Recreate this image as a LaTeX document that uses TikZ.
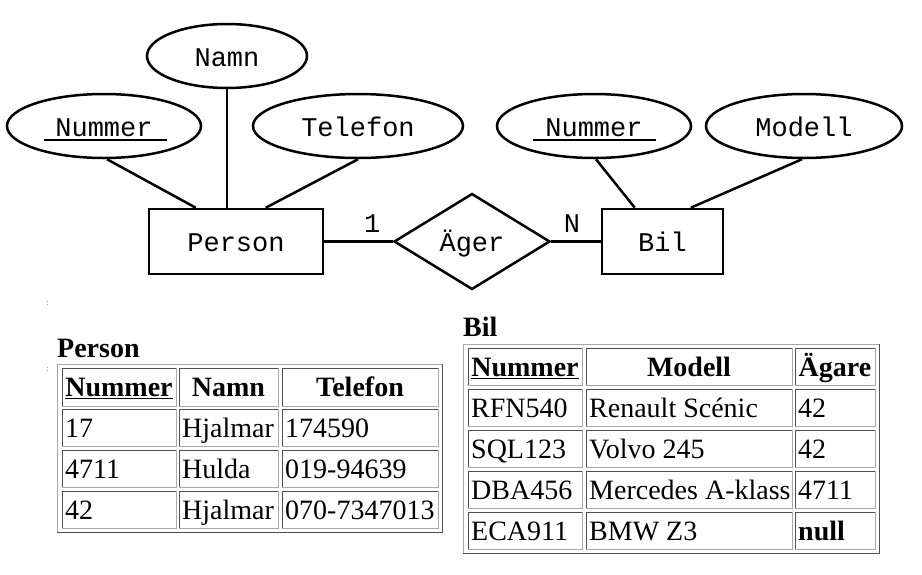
\documentclass[tikz,border=0pt]{standalone}
\usepackage{fontspec}
\setmainfont{Liberation Serif}
\newfontfamily\ermono{Liberation Mono}
\usetikzlibrary{shapes.geometric,calc}
\definecolor{cdk}{HTML}{505050}
\definecolor{clt}{HTML}{A8A8A8}
\newcommand\myerfont{\ermono\fontsize{27}{30}\selectfont}
\newcommand\mytabfont{\fontsize{28}{32}\selectfont}
\tikzset{
  er/.style={line width=2.5pt},
  ertext/.style={font=\myerfont, text height=20pt, text depth=0pt},
  attr/.style={ellipse, draw, er, inner sep=0pt, minimum height=64pt, ertext},
  ent/.style={rectangle, draw, er, inner sep=0pt, minimum height=65pt, ertext},
  rel/.style={diamond, draw, er, inner sep=0pt, minimum width=156pt, minimum height=96pt, ertext},
  card/.style={inner sep=0pt, font=\myerfont},
  keyline/.style={line width=2.2pt},
  tabtext/.style={inner sep=0pt, font=\mytabfont},
  tabhead/.style={inner sep=0pt, font=\mytabfont\bfseries},
  dkline/.style={draw=cdk, line width=1pt},
  ltline/.style={draw=clt, line width=1pt},
  dotmark/.style={fill=clt},
}
% cell with left-aligned text: name, x1, y1, x2, y2, text
\newcommand\cellL[6]{%
  \draw[dkline] (#2,#5) -- (#2,#3) -- (#4,#3);
  \draw[ltline] (#4,#3) -- (#4,#5) -- (#2,#5);
  \node[tabtext, anchor=base west] (#1) at ({#2+3},{(#3+#5)/2+9.5}) {#6};
}
% header cell with centred bold text
\newcommand\cellC[6]{%
  \draw[dkline] (#2,#5) -- (#2,#3) -- (#4,#3);
  \draw[ltline] (#4,#3) -- (#4,#5) -- (#2,#5);
  \node[tabhead, anchor=base] (#1) at ({(#2+#4)/2},{(#3+#5)/2+9.5}) {#6};
}
% outer table frame
\newcommand\tframe[4]{%
  \draw[ltline] (#1,#4) -- (#1,#2) -- (#3,#2);
  \draw[dkline] (#3,#2) -- (#3,#4) -- (#1,#4);
}
\begin{document}
\begin{tikzpicture}[x=1pt,y=-1pt]
\fill[white] (0,0) rectangle (922,574);
\useasboundingbox (0,0) rectangle (922,574);

% ---------- ER diagram ----------
\node[attr, minimum width=160pt] (namn) at (227,56) {Namn};
\node[attr, minimum width=194pt] (pnum) at (104,126) {Nummer};
\node[attr, minimum width=210pt] (tel) at (358,126) {Telefon};
\node[attr, minimum width=194pt] (bnum) at (594,126) {Nummer};
\node[attr, minimum width=196pt] (modell) at (804,126) {Modell};
\node[ent, minimum width=174pt] (person) at (236,241.5) {Person};
\node[ent, minimum width=121pt] (bil) at (662.5,241.5) {Bil};
\node[rel] (ager) at (472,241.5) {Äger};

\draw[keyline] ([shift={(-60,14)}]pnum.center) -- ([shift={(63,14)}]pnum.center);
\draw[keyline] ([shift={(-61,14)}]bnum.center) -- ([shift={(62,14)}]bnum.center);

\draw[er] ([xshift=3pt]pnum.south) -- ([xshift=48pt]person.north west);
\draw[er] (namn.south) -- (namn.south |- person.north);
\draw[er] (tel.south) -- ([xshift=118pt]person.north west);
\draw[er] ([xshift=2pt]bnum.south) -- ([xshift=34pt]bil.north west);
\draw[er] ([xshift=-2pt]modell.south) -- ([xshift=90pt]bil.north west);
\draw[er] (person) -- node[card, pos=0.7, yshift=18pt] (c1) {1} (ager);
\draw[er] (ager) -- node[card, pos=0.42, yshift=18pt] (cn) {N} (bil);

% tiny marks
\fill[dotmark] (46.5,300.5) rectangle (47.5,301.5);
\fill[dotmark] (46.5,303.5) rectangle (47.5,304.5);
\fill[dotmark] (46.5,366.5) rectangle (47.5,367.5);
\fill[dotmark] (46.5,369.5) rectangle (47.5,370.5);

% ---------- Person table ----------
\node[tabhead, anchor=base west] (ptitle) at (57,357) {Person};
\tframe{57}{364}{442}{532}
\cellC{ph1}{62}{368}{176}{406}{\underline{Nummer}}
\cellC{ph2}{179}{368}{278}{406}{Namn}
\cellC{ph3}{282}{368}{438}{406}{Telefon}
\cellL{p11}{62}{409}{176}{446}{17}
\cellL{p12}{179}{409}{278}{446}{Hjalmar}
\cellL{p13}{282}{409}{438}{446}{174590}
\cellL{p21}{62}{450}{176}{487}{4711}
\cellL{p22}{179}{450}{278}{487}{Hulda}
\cellL{p23}{282}{450}{438}{487}{019-94639}
\cellL{p31}{62}{491}{176}{528}{42}
\cellL{p32}{179}{491}{278}{528}{Hjalmar}
\cellL{p33}{282}{491}{438}{528}{070-7347013}

% ---------- Bil table ----------
\node[tabhead, anchor=base west] (btitle) at (463,336) {Bil};
\tframe{463}{344}{879}{553}
\cellC{bh1}{468}{348}{582}{385}{\underline{Nummer}}
\cellC{bh2}{586}{348}{792}{385}{Modell}
\cellC{bh3}{795}{348}{875}{385}{Ägare}
\cellL{b11}{468}{389}{582}{426}{RFN540}
\cellL{b12}{586}{389}{792}{426}{Renault Scénic}
\cellL{b13}{795}{389}{875}{426}{42}
\cellL{b21}{468}{430}{582}{467}{SQL123}
\cellL{b22}{586}{430}{792}{467}{Volvo 245}
\cellL{b23}{795}{430}{875}{467}{42}
\cellL{b31}{468}{471}{582}{508}{DBA456}
\cellL{b32}{586}{471}{792}{508}{Mercedes A-klass}
\cellL{b33}{795}{471}{875}{508}{4711}
\cellL{b41}{468}{512}{582}{549}{ECA911}
\cellL{b42}{586}{512}{792}{549}{BMW Z3}
\cellL{b43}{795}{512}{875}{549}{\textbf{null}}
\end{tikzpicture}
\end{document}
